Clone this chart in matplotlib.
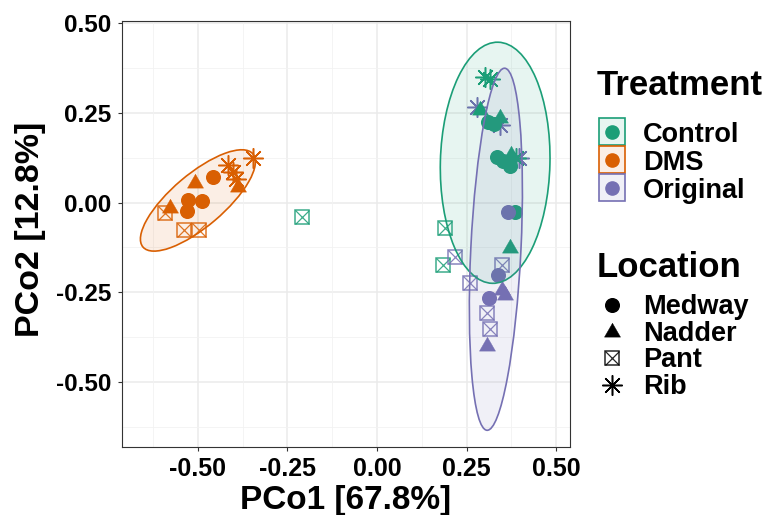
import numpy as np
import matplotlib
matplotlib.use("Agg")
import matplotlib.pyplot as plt
from matplotlib.patches import Ellipse, Rectangle

plt.rcParams['font.family'] = ['Liberation Sans', 'DejaVu Sans']
plt.rcParams['font.weight'] = 'bold'

# ---- categories -------------------------------------------------------
treatments = ["Control", "DMS", "Original"]
treatment_colors = ["#1B9E77", "#D95F02", "#7570B3"]
locations = ["Medway", "Nadder", "Pant", "Rib"]

# ---- PCoA scores (axis 1 / axis 2) by treatment and location ----------
control_pco1 = {
    "Medway": [0.310, 0.327, 0.335, 0.352, 0.372, 0.385],
    "Nadder": [0.288, 0.344, 0.374, 0.372],
    "Pant":   [0.190, 0.184, -0.209],
    "Rib":    [0.302, 0.316, 0.388],
}
control_pco2 = {
    "Medway": [0.224, 0.219, 0.127, 0.116, 0.102, -0.026],
    "Nadder": [0.258, 0.235, 0.132, -0.127],
    "Pant":   [-0.071, -0.174, -0.040],
    "Rib":    [0.350, 0.344, 0.124],
}
dms_pco1 = {
    "Medway": [-0.458, -0.528, -0.489, -0.531],
    "Nadder": [-0.508, -0.388, -0.578],
    "Pant":   [-0.592, -0.539, -0.497],
    "Rib":    [-0.346, -0.416, -0.402, -0.394],
}
dms_pco2 = {
    "Medway": [0.071, 0.007, 0.004, -0.024],
    "Nadder": [0.054, 0.043, -0.015],
    "Pant":   [-0.029, -0.077, -0.077],
    "Rib":    [0.124, 0.104, 0.085, 0.065],
}
original_pco1 = {
    "Medway": [0.366, 0.338, 0.313],
    "Nadder": [0.349, 0.358, 0.307],
    "Pant":   [0.218, 0.349, 0.260, 0.307, 0.316],
    "Rib":    [0.279, 0.344, 0.397],
}
original_pco2 = {
    "Medway": [-0.026, -0.202, -0.266],
    "Nadder": [-0.244, -0.258, -0.400],
    "Pant":   [-0.152, -0.174, -0.224, -0.308, -0.352],
    "Rib":    [0.266, 0.216, 0.124],
}

scores = {
    "Control": (control_pco1, control_pco2),
    "DMS": (dms_pco1, dms_pco2),
    "Original": (original_pco1, original_pco2),
}

# 95% confidence ellipses per treatment (centre, semi-axes, rotation in degrees)
ellipse_center_x = [0.330, -0.500, 0.332]
ellipse_center_y = [0.111, 0.006, -0.130]
ellipse_semi_major = [0.336, 0.201, 0.505]
ellipse_semi_minor = [0.153, 0.073, 0.070]
ellipse_angle = [88.6, 40.2, 87.2]

x_ticks = [-0.50, -0.25, 0.00, 0.25, 0.50]
y_ticks = [-0.50, -0.25, 0.00, 0.25, 0.50]
x_label = "PCo1 [67.8%]"
y_label = "PCo2 [12.8%]"

color_of = dict(zip(treatments, treatment_colors))

# ---- marker styles ------------------------------------------------------
tri = [(0.0, 1.0), (-0.866, -0.5), (0.866, -0.5), (0.0, 1.0)]


def draw_marker(axis, xs, ys, loc, color, z=3):
    if loc == "Medway":
        axis.plot(xs, ys, ls="none", marker="o", ms=9.8,
                  color=color, mec=color, zorder=z)
    elif loc == "Nadder":
        axis.plot(xs, ys, ls="none", marker=tri, ms=13.3,
                  color=color, mec=color, mew=0.3, zorder=z)
    elif loc == "Pant":
        axis.plot(xs, ys, ls="none", marker="s", ms=10.5, mfc="none",
                  mec=color, mew=1.1, alpha=0.85, zorder=z)
        axis.plot(xs, ys, ls="none", marker="x", ms=10.5,
                  mec=color, mew=0.9, alpha=0.85, zorder=z)
    else:
        axis.plot(xs, ys, ls="none", marker=(8, 2, 0), ms=14.5,
                  mec=color, mew=1.1, zorder=z)


# ---- figure -------------------------------------------------------------
W, H = 766, 515
fig = plt.figure(figsize=(W / 100, H / 100), dpi=100)
px_left, px_right, px_top, px_bottom = 122, 570, 21, 447
ax = fig.add_axes([px_left / W, 1 - px_bottom / H,
                   (px_right - px_left) / W, (px_bottom - px_top) / H])
ax.set_xlim(-0.712, 0.539)
ax.set_ylim(-0.681, 0.506)

# grid
for v in x_ticks:
    ax.axvline(v, color="#EBEBEB", lw=1.1, zorder=0)
for v in y_ticks:
    ax.axhline(v, color="#EBEBEB", lw=1.1, zorder=0)
for v in list(np.array(x_ticks[:-1]) + 0.125) + [x_ticks[0] - 0.125]:
    ax.axvline(v, color="#F2F2F2", lw=0.6, zorder=0)
for v in list(np.array(y_ticks[:-1]) + 0.125) + [y_ticks[0] - 0.125]:
    ax.axhline(v, color="#F2F2F2", lw=0.6, zorder=0)

# points (drawing order controls overlaps)
draw_order = [("Original", "Rib"), ("Control", "Medway"), ("Control", "Nadder"),
              ("Control", "Pant"), ("Control", "Rib"),
              ("DMS", "Medway"), ("DMS", "Nadder"), ("DMS", "Pant"), ("DMS", "Rib"),
              ("Original", "Medway"), ("Original", "Nadder"), ("Original", "Pant")]
for trt, loc in draw_order:
    xs_d, ys_d = scores[trt]
    draw_marker(ax, xs_d[loc], ys_d[loc], loc, color_of[trt])

# ellipses
for i, trt in enumerate(treatments):
    col = color_of[trt]
    kw = dict(xy=(ellipse_center_x[i], ellipse_center_y[i]),
              width=2 * ellipse_semi_major[i], height=2 * ellipse_semi_minor[i],
              angle=ellipse_angle[i])
    ax.add_patch(Ellipse(**kw, facecolor=col, alpha=0.1, edgecolor="none",
                         zorder=4))
    ax.add_patch(Ellipse(**kw, facecolor="none", edgecolor=col, lw=1.2,
                         zorder=4))

# axes styling
ax.set_xticks(x_ticks)
ax.set_yticks(y_ticks)
ax.set_xticklabels([f"{v:.2f}" for v in x_ticks])
ax.set_yticklabels([f"{v:.2f}" for v in y_ticks])
ax.tick_params(axis="both", length=3, width=0.8, color="#333333",
               labelcolor="black")
ax.tick_params(axis="x", labelsize=18, pad=4)
ax.tick_params(axis="y", labelsize=17.5, pad=5)
for lab in ax.get_xticklabels() + ax.get_yticklabels():
    lab.set_fontweight("bold")
for sp in ax.spines.values():
    sp.set_color("#333333")
    sp.set_linewidth(0.8)

# overlay in pixel coordinates for titles and legend
lax = fig.add_axes([0, 0, 1, 1], facecolor="none")
lax.set_xlim(0, W)
lax.set_ylim(H, 0)
lax.axis("off")

lax.text((px_left + px_right) / 2, 509, x_label, ha="center", va="baseline",
         fontsize=24, fontweight="bold")
lax.text(31, 229, y_label, ha="center", va="center",
         rotation=90, fontsize=24.5, fontweight="bold")

# Treatment legend
lax.text(597, 95, "Treatment", ha="left", va="baseline", fontsize=25,
         fontweight="bold")
box_centers = [131.5, 159.5, 187.5]
for trt, cy in zip(treatments, box_centers):
    col = color_of[trt]
    lax.plot([611.5], [cy], ls="none", marker="o", ms=9.5, color=col)
    lax.add_patch(Rectangle((598.5, cy - 13.2), 26.4, 26.4, facecolor=col,
                            alpha=0.1, edgecolor="none"))
    lax.add_patch(Rectangle((598.5, cy - 13.2), 26.4, 26.4, facecolor="none",
                            edgecolor=col, lw=1.2))
    lax.text(643, cy + 10.5, trt, ha="left", va="baseline", fontsize=19.5,
             fontweight="bold")

# Location legend
lax.text(597, 277, "Location", ha="left", va="baseline", fontsize=25,
         fontweight="bold")
key_centers = [305, 332, 358, 385]
for loc, cy in zip(locations, key_centers):
    draw_marker(lax, [612], [cy], loc, "black")
    lax.text(643, cy + 9, loc, ha="left", va="baseline", fontsize=19.5,
             fontweight="bold")

fig.savefig("out.png", dpi=100)
